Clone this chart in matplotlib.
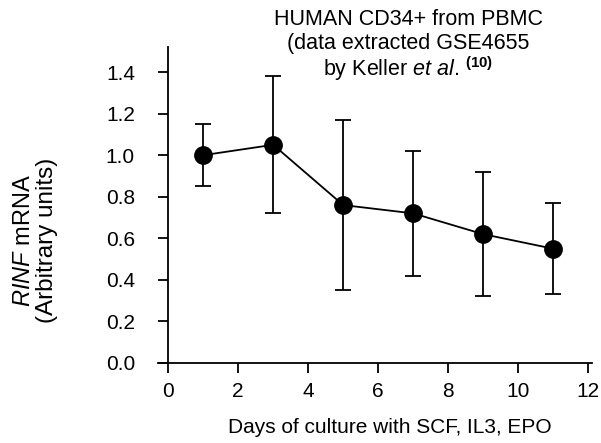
import matplotlib
matplotlib.use("Agg")
import matplotlib.pyplot as plt

plt.rcParams['font.family'] = ['Liberation Sans', 'DejaVu Sans']
plt.rcParams['mathtext.fontset'] = 'custom'
plt.rcParams['mathtext.rm'] = 'Liberation Sans'
plt.rcParams['mathtext.it'] = 'Liberation Sans:italic'
plt.rcParams['mathtext.bf'] = 'Liberation Sans:bold'

# data
days = [1, 3, 5, 7, 9, 11]
rinf = [1.00, 1.05, 0.76, 0.72, 0.62, 0.55]
err = [0.15, 0.33, 0.41, 0.30, 0.30, 0.22]

fig = plt.figure(figsize=(6.01, 4.43), dpi=100)
ax = fig.add_axes([0.263, 0.1806, 0.722, 0.713])

ax.errorbar(days, rinf, yerr=err, color='black', marker='o', markersize=12.5,
            linewidth=1.3, elinewidth=1.3, capsize=5.5, capthick=1.3)

ax.set_xlim(-0.29, 12.11)
ax.set_ylim(0, 1.52)
ax.set_xticks(range(0, 13, 2))
ax.set_yticks([0.0, 0.2, 0.4, 0.6, 0.8, 1.0, 1.2, 1.4])
ax.set_yticklabels(['0.0', '0.2', '0.4', '0.6', '0.8', '1.0', '1.2', '1.4'])
ax.spines['top'].set_visible(False)
ax.spines['right'].set_visible(False)
ax.spines['left'].set_position(('data', 0))
for s in ['left', 'bottom']:
    ax.spines[s].set_linewidth(1.3)
ax.tick_params(direction='out', length=7, width=1.3, labelsize=15)
ax.tick_params(axis='x', pad=7)
ax.tick_params(axis='y', pad=17)

fig.text(0.649, 0.034, 'Days of culture with SCF, IL3, EPO', fontsize=15,
         ha='center', va='center')

fig.text(0.040, 0.458, r'$\it{RINF}$ mRNA', rotation=90, fontsize=17,
         ha='center', va='center')
fig.text(0.078, 0.458, '(Arbitrary units)', rotation=90, fontsize=17.5,
         ha='center', va='center')

fig.text(0.679, 0.955, 'HUMAN CD34+ from PBMC', fontsize=15.5, ha='center', va='center')
fig.text(0.679, 0.901, '(data extracted GSE4655', fontsize=15.5, ha='center', va='center')
fig.text(0.679, 0.845, r'by Keller $\it{et\ al.}$$^{\,\bf{(10)}}$', fontsize=15.5,
         ha='center', va='center')

fig.savefig('out.png', dpi=100)
